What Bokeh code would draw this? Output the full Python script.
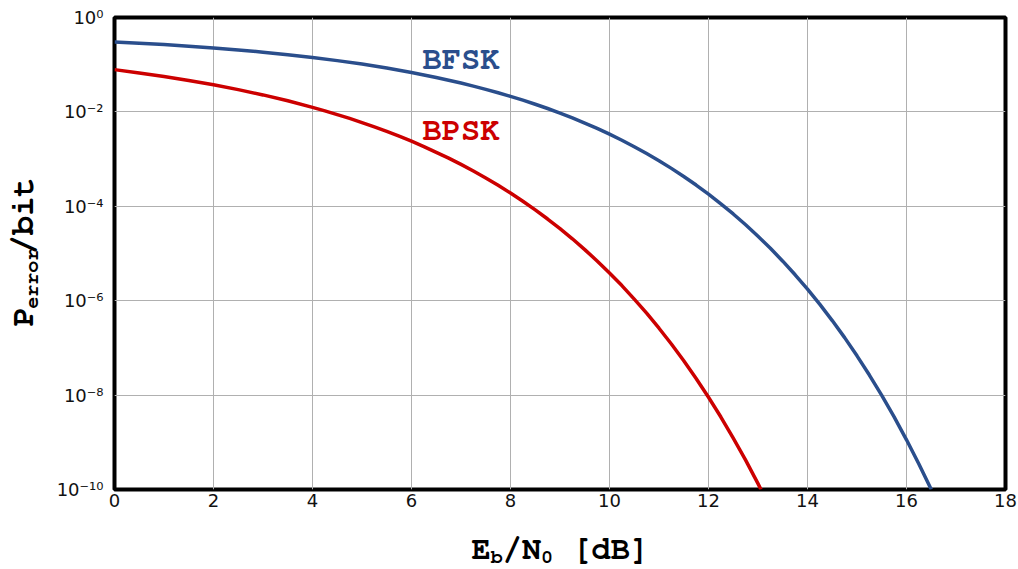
from bokeh.plotting import figure
from bokeh.layouts import row, column
from bokeh.models import Range1d, FixedTicker, CustomJSTickFormatter, Label
from bokeh.embed import file_html
from bokeh.resources import INLINE

# Bit error probability versus Eb/N0 (dB)
ebn0_bfsk_db = [0.0, 0.5, 1.0, 1.5, 2.0, 2.5, 3.0, 3.5, 4.0, 4.5, 5.0, 5.5, 6.0,
                6.25, 6.5, 6.75, 7.0, 7.25, 7.5, 7.75, 8.0, 8.25, 8.5, 8.75, 9.0,
                9.25, 9.5, 9.75, 10.0, 10.25, 10.5, 10.75, 11.0, 11.25, 11.5,
                11.75, 12.0, 12.25, 12.5, 12.75, 13.0, 13.25, 13.5, 13.75, 14.0,
                14.25, 14.5, 14.75, 15.0, 15.25, 15.5, 15.75, 16.0, 16.25, 16.5]
p_bfsk = [0.303, 0.285, 0.267, 0.247, 0.226, 0.206, 0.184, 0.163, 0.142, 0.122,
          0.103, 0.0848, 0.0683,
          0.0607, 0.0536, 0.0469, 0.0408, 0.0352, 0.0300, 0.0254, 0.0213,
          0.0177, 0.0145, 0.0118, 0.00942, 0.00745, 0.00580, 0.00446, 0.00337,
          0.00251, 0.00183, 0.00131, 9.23e-4, 6.36e-4, 4.28e-4, 2.82e-4,
          1.81e-4, 1.13e-4, 6.88e-5, 4.06e-5, 2.32e-5, 1.29e-5, 6.88e-6,
          3.54e-6, 1.76e-6, 8.34e-7, 3.79e-7, 1.65e-7, 6.79e-8, 2.66e-8,
          9.87e-9, 3.45e-9, 1.13e-9, 3.48e-10, 1.0e-10]

ebn0_bpsk_db = [0.0, 0.5, 1.0, 1.5, 2.0, 2.5, 3.0, 3.5, 4.0,
                4.25, 4.5, 4.75, 5.0, 5.25, 5.5, 5.75, 6.0, 6.25, 6.5, 6.75, 7.0,
                7.25, 7.5, 7.75, 8.0, 8.25, 8.5, 8.75, 9.0, 9.25, 9.5, 9.75,
                10.0, 10.25, 10.5, 10.75, 11.0, 11.25, 11.5, 11.75, 12.0, 12.25,
                12.5, 12.75, 13.0, 13.06]
p_bpsk = [0.0786, 0.0669, 0.0562, 0.0464, 0.0375, 0.0296, 0.0229, 0.0172, 0.0125,
          0.0105, 0.00878, 0.00728, 0.00595, 0.00482, 0.00386, 0.00306,
          0.00239, 0.00184, 0.00139, 1.05e-3, 7.73e-4, 5.60e-4, 3.99e-4,
          2.79e-4, 1.91e-4, 1.28e-4, 8.40e-5, 5.38e-5, 3.36e-5, 2.05e-5,
          1.21e-5, 6.96e-6, 3.87e-6, 2.09e-6, 1.08e-6, 5.43e-7, 2.61e-7,
          1.21e-7, 5.33e-8, 2.25e-8, 9.01e-9, 3.43e-9, 1.23e-9, 4.18e-10,
          1.33e-10, 1.0e-10]

x_ticks = [0, 2, 4, 6, 8, 10, 12, 14, 16, 18]
y_ticks = [1.0, 1e-2, 1e-4, 1e-6, 1e-8, 1e-10]

series_labels = ["BFSK", "BPSK"]
label_x = [7.0, 7.0]
label_y = [0.135, 0.00404]

BLUE = "#2a4e8c"
RED = "#cc0000"
MONO = "FreeMono"

W, H = 1018, 569
LEFT_W = 50      # strip holding the rotated y title
BOTTOM_H = 50    # strip holding the x title

p = figure(width=W - LEFT_W, height=H - BOTTOM_H, y_axis_type="log",
           x_range=Range1d(0, 18), y_range=Range1d(1e-10, 1.0),
           output_backend="svg", toolbar_location=None,
           min_border_left=114 - LEFT_W, min_border_right=13,
           min_border_top=17, min_border_bottom=80 - BOTTOM_H)

p.background_fill_color = "white"
p.border_fill_color = "white"
p.outline_line_color = "black"
p.outline_line_width = 4

p.xaxis.ticker = FixedTicker(ticks=x_ticks)
p.yaxis.ticker = FixedTicker(ticks=y_ticks)
p.yaxis.formatter = CustomJSTickFormatter(code="""
const sup = {"0": "\\u2070", "1": "\\u00b9", "2": "\\u00b2", "3": "\\u00b3",
             "4": "\\u2074", "5": "\\u2075", "6": "\\u2076", "7": "\\u2077",
             "8": "\\u2078", "9": "\\u2079", "-": "\\u207b"};
const e = Math.round(Math.log10(tick));
return "10" + String(e).split("").map(c => sup[c]).join("");
""")

for ax in (p.xaxis, p.yaxis):
    ax.axis_line_color = None
    ax.major_tick_line_color = None
    ax.minor_tick_line_color = None
    ax.major_label_text_font = "DejaVu Sans"
    ax.major_label_text_font_size = "18px"
    ax.major_label_text_color = "#111111"
p.xaxis.major_label_standoff = -2
p.yaxis.major_label_standoff = 5

p.grid.grid_line_color = "#b0b0b0"
p.grid.grid_line_width = 1

p.line(ebn0_bfsk_db, p_bfsk, line_color=BLUE, line_width=3.5, line_join="round")
p.line(ebn0_bpsk_db, p_bpsk, line_color=RED, line_width=3.5, line_join="round")

for txt, lx, ly, col in zip(series_labels, label_x, label_y, [BLUE, RED]):
    p.add_layout(Label(x=lx, y=ly, text=txt, text_align="center",
                       text_baseline="alphabetic", text_color=col,
                       text_font=MONO, text_font_style="bold",
                       text_font_size="32px"))

BIG = 32
SMALL = 20
ADV_BIG = 0.6 * BIG
ADV_SMALL = 0.6 * SMALL


def strip(width, height):
    f = figure(width=width, height=height, x_range=Range1d(0, width),
               y_range=Range1d(0, height), x_axis_location=None,
               y_axis_location=None, output_backend="svg",
               toolbar_location=None, min_border=0)
    f.grid.visible = False
    f.outline_line_color = None
    f.background_fill_color = "white"
    f.border_fill_color = "white"
    return f


def piece(fig, text, size, x, y, angle=0):
    fig.add_layout(Label(x=x, y=y, text=text, text_align="left",
                         text_baseline="alphabetic", angle=angle,
                         angle_units="deg", text_color="black",
                         text_font=MONO, text_font_style="bold",
                         text_font_size=f"{size}px"))


# y-axis title: P_error/bit, reading upwards
ytitle = strip(LEFT_W, H - BOTTOM_H)
yy = 179.5
piece(ytitle, "P", BIG, 22, yy, angle=90)
yy += ADV_BIG
piece(ytitle, "error", SMALL, 31, yy, angle=90)
yy += 5 * ADV_SMALL
piece(ytitle, "/bit", BIG, 22, yy, angle=90)

# x-axis title: E_b/N_0 [dB]
xtitle = strip(W, BOTTOM_H)
xx = 471.0
piece(xtitle, "E", BIG, xx, 21)
xx += ADV_BIG
piece(xtitle, "b", SMALL, xx, 13)
xx += ADV_SMALL
piece(xtitle, "/N", BIG, xx, 21)
xx += 2 * ADV_BIG
piece(xtitle, "0", SMALL, xx, 13)
xx += ADV_SMALL + ADV_BIG
piece(xtitle, "[dB]", BIG, xx, 21)

layout = column(row(ytitle, p, spacing=0), xtitle, spacing=0)

with open("out.html", "w", encoding="utf-8") as f:
    f.write(file_html(layout, INLINE))
